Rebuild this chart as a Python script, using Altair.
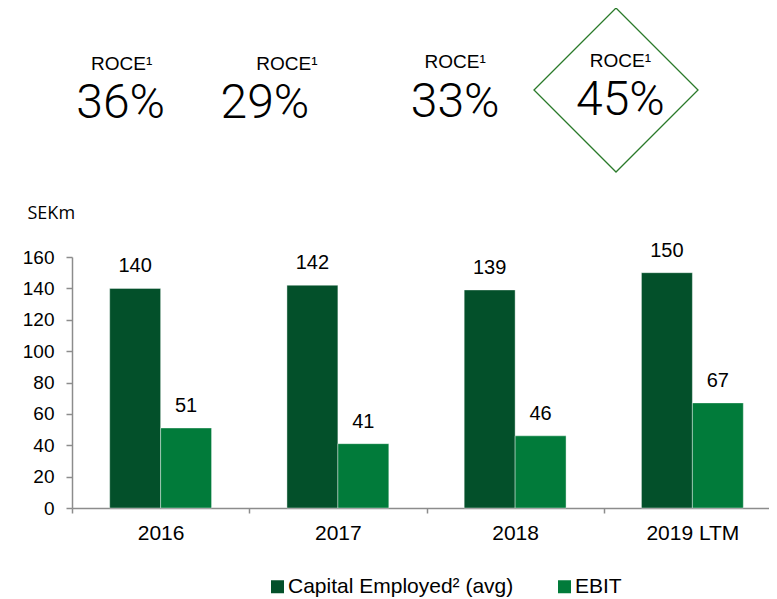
import altair as alt
import pandas as pd

years = ["2016", "2017", "2018", "2019 LTM"]
series = ["Capital Employed² (avg)", "EBIT"]
capital_employed = [140, 142, 139, 150]
ebit = [51, 41, 46, 67]
roce = [36, 29, 33, 45]
y_ticks = [0, 20, 40, 60, 80, 100, 120, 140, 160]

colors = ["#03502a", "#017b3a"]

rows = []
for i, y in enumerate(years):
    rows.append({"year": y, "series": series[0], "value": capital_employed[i]})
    rows.append({"year": y, "series": series[1], "value": ebit[i]})
df = pd.DataFrame(rows)

x_scale = alt.Scale(domain=years, paddingInner=0, paddingOuter=0)
xo_scale = alt.Scale(domain=series, paddingInner=0, paddingOuter=0.74)
y_scale = alt.Scale(domain=[0, 160], nice=False)
FONT = "Liberation Sans"

x_enc = alt.X(
    "year:N", scale=x_scale, sort=years, title=None,
    axis=alt.Axis(
        tickBand="extent", tickSize=5, tickColor="#8c8c8c", domainColor="#8c8c8c",
        domainWidth=1.5, tickWidth=1.5, labelAngle=0, labelFontSize=21,
        labelFont=FONT, labelColor="#000000", labelPadding=9,
    ),
)
y_enc = alt.Y(
    "value:Q", scale=y_scale,
    axis=alt.Axis(
        values=y_ticks, grid=False, tickSize=6, tickColor="#8c8c8c", domainColor="#8c8c8c",
        domainWidth=1.5, tickWidth=1.5, labelFontSize=19, labelFont=FONT,
        labelColor="#000000", labelPadding=12, title="SEKm", titleAngle=0,
        titleX=-45, titleY=-39, titleAlign="left", titleBaseline="alphabetic",
        titleFont="Open Sans", titleFontSize=18, titleFontWeight="normal",
        titleColor="#000000",
    ),
)

base = alt.Chart(df).encode(
    x=x_enc,
    xOffset=alt.XOffset("series:N", scale=xo_scale, sort=series),
    y=y_enc,
)

bars = base.mark_bar(stroke="#ffffff", strokeWidth=0.8, strokeOpacity=0.5).encode(
    color=alt.Color(
        "series:N", sort=series,
        scale=alt.Scale(domain=series, range=colors),
        legend=alt.Legend(
            title=None, orient="none", legendX=195, legendY=319,
            direction="horizontal", columns=2, symbolType="square",
            symbolSize=169, symbolStrokeWidth=0, labelFontSize=21,
            labelFont=FONT, labelColor="#000000", labelOffset=0,
            columnPadding=40, padding=0, labelLimit=0,
        ),
    )
)

labels = base.mark_text(
    dy=-16, baseline="alphabetic", align="center", fontSize=20, font=FONT, color="#000000"
).encode(text="value:Q")

layers = [bars, labels]

# ROCE annotations
pct_dx = [-40, -73, -60, -72]
roce_dx = [-39, -51, -60, -72]
roce_y = [-187, -187, -189, -190.5]
pct_y = [-139, -139, -140.3, -142]
for i, yr in enumerate(years):
    adf = pd.DataFrame({"year": [yr], "pct": [f"{roce[i]}%"], "lab": ["ROCE¹"]})
    layers.append(
        alt.Chart(adf).mark_text(
            dx=roce_dx[i], align="center", baseline="alphabetic", fontSize=19,
            font="Liberation Sans Narrow, Liberation Sans", color="#000000",
        ).encode(x=alt.X("year:N", scale=x_scale, sort=years), y=alt.value(roce_y[i]), text="lab:N")
    )
    layers.append(
        alt.Chart(adf).mark_text(
            dx=pct_dx[i], align="center", baseline="alphabetic", fontSize=48,
            font="Roboto", fontWeight=300, color="#000000",
        ).encode(x=alt.X("year:N", scale=x_scale, sort=years), y=alt.value(pct_y[i]), text="pct:N")
    )

diamond = alt.Chart(pd.DataFrame({"k": [0]})).mark_point(
    shape="diamond", size=26896, filled=False, stroke="#2a7a2a", strokeWidth=1.3, opacity=1
).encode(x=alt.value(544), y=alt.value(-167))
layers.append(diamond)

chart = alt.layer(*layers).properties(
    width=709, height=251,
    autosize=alt.AutoSizeParams(type="none"),
    padding={"left": 64, "top": 249, "right": -12, "bottom": 90},
    background="#ffffff",
).configure_view(stroke=None)

chart.save("out.html", embed_options={"renderer": "svg", "actions": False})
